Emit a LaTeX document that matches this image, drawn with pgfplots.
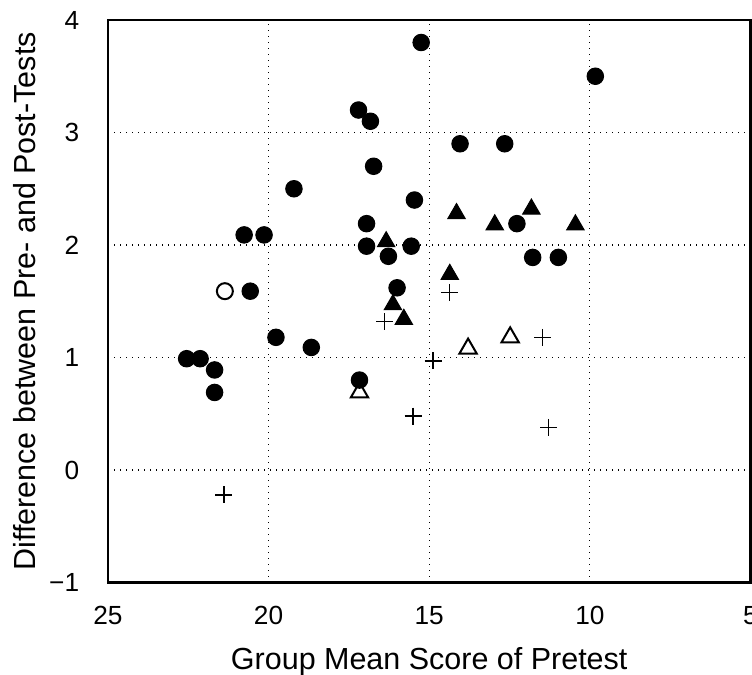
\documentclass[border=0pt]{standalone}
\usepackage{fontspec}
\setmainfont{Liberation Sans}
\usepackage{pgfplots}
\pgfplotsset{compat=1.18}

\begin{document}
\begin{tikzpicture}
\begin{axis}[
  name=ax,
  scale only axis,
  width=257.2pt, height=225.2pt,
  x dir=reverse,
  xmin=5, xmax=25, ymin=-1, ymax=4,
  xtick={5,10,15,20,25}, xticklabels={5,10,15,20,25},
  ytick={-1,0,1,2,3,4}, yticklabels={−1,0,1,2,3,4},
  major tick length=0pt,
  tick label style={font=\fontsize{10.5}{11}\selectfont},
  xticklabel style={yshift=-6pt},
  yticklabel style={xshift=-8pt},
  grid=major,
  major grid style={black,dotted,line width=0.5pt},
  axis line style={black,line width=0.9pt},
  xlabel={Group Mean Score of Pretest},
  ylabel={Difference between Pre- and Post-Tests},
  label style={font=\fontsize{12.2}{13}\selectfont},
  xlabel style={at={(axis description cs:0.5,0)},anchor=center,yshift=-31.6pt},
  ylabel style={at={(axis description cs:0,0.5)},anchor=center,yshift=33.2pt},
  clip=false,
]
% filled circles
\addplot[only marks,mark=*,mark size=3.3pt,black] coordinates {
 (15.25,3.80) (9.83,3.50) (17.20,3.20) (16.83,3.10) (14.04,2.90) (12.65,2.90)
 (16.73,2.70) (19.21,2.50) (15.46,2.40) (16.95,2.19) (20.76,2.09) (20.14,2.09)
 (12.27,2.19) (16.95,1.99) (15.56,1.99) (16.27,1.90) (11.78,1.89) (10.98,1.89)
 (20.57,1.59) (16.00,1.62) (19.77,1.18) (18.67,1.09) (22.55,0.99) (22.13,0.99)
 (21.68,0.89) (21.68,0.69) (17.17,0.80)
};
% open circle
\addplot[only marks,mark=o,mark size=3.2pt,black,mark options={line width=0.8pt}] coordinates {
 (21.36,1.59)
};
% filled triangles
\addplot[only marks,mark=triangle*,mark size=4pt,black] coordinates {
 (14.15,2.28) (12.96,2.18) (11.82,2.32) (10.45,2.18) (16.34,2.03) (14.36,1.74)
 (16.13,1.47) (15.79,1.34)
};
% open triangles
\addplot[only marks,mark=triangle,mark size=4pt,black,mark options={line width=0.8pt}] coordinates {
 (17.17,0.69) (13.79,1.08) (12.48,1.18)
};
% plus signs
\addplot[only marks,mark=+,mark size=3.4pt,black,mark options={line width=0.6pt}] coordinates {
 (14.37,1.58) (16.39,1.32) (11.47,1.18) (14.88,0.97) (15.50,0.48) (11.28,0.38)
 (21.39,-0.22)
};
\end{axis}
\pgfresetboundingbox
\useasboundingbox ([xshift=-43.2pt,yshift=-36.8pt]ax.south west) rectangle ([xshift=0.6pt,yshift=8pt]ax.north east);
\end{tikzpicture}
\end{document}
